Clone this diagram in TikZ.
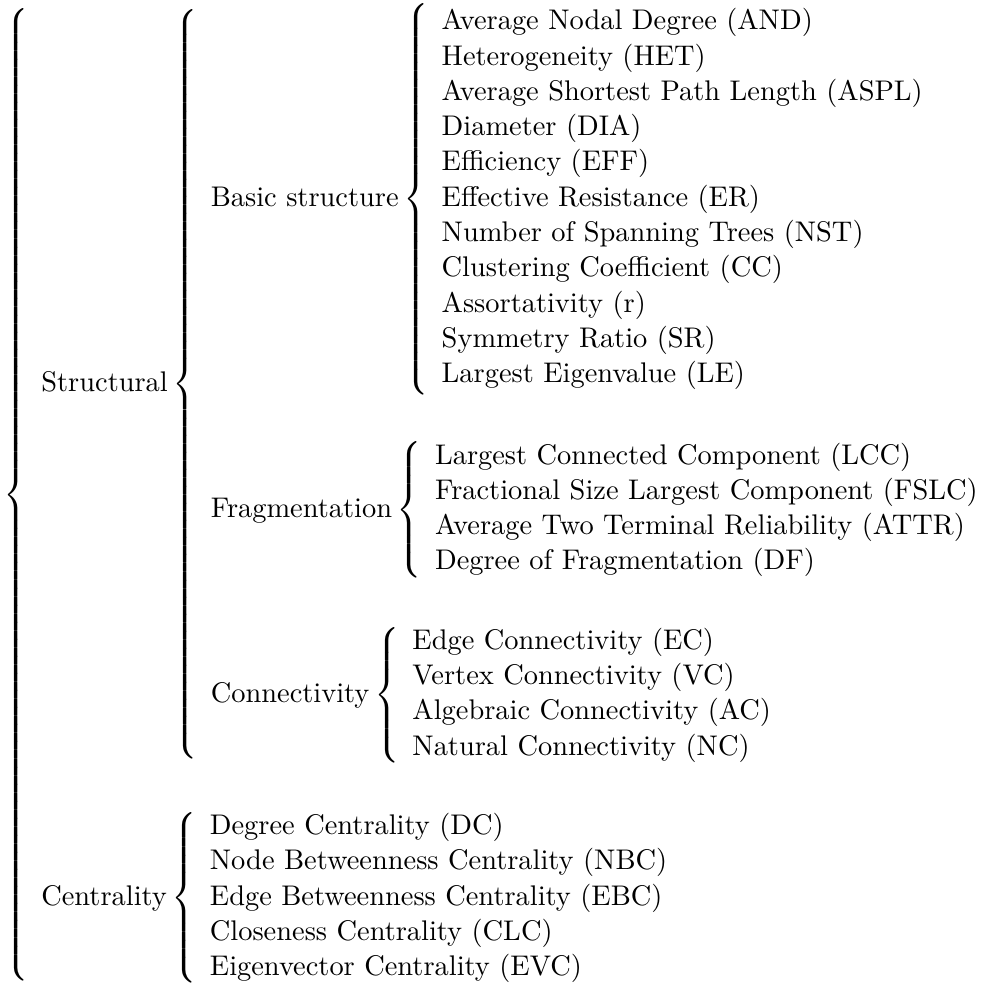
\documentclass[tikz,border=0pt]{standalone}
\usepackage{amsmath}
\begin{document}
\begin{tikzpicture}
\tikzset{tree/.style={inner sep=0pt, outer sep=0pt, anchor=north west,
    font=\fontsize{10.95}{13.6}\selectfont}}
% The whole classification is typeset as nested brace groups in one node
\node[tree] (taxonomy) at (0,0) {$
\left\{\begin{array}{l@{}}
\text{Structural}\left\{\begin{array}{l@{}}
  \text{Basic structure}\left\{\begin{array}{l@{}}
    \text{Average Nodal Degree (AND)}\\
    \text{Heterogeneity (HET)}\\
    \text{Average Shortest Path Length (ASPL)}\\
    \text{Diameter (DIA)}\\
    \text{Efficiency (EFF)}\\
    \text{Effective Resistance (ER)}\\
    \text{Number of Spanning Trees (NST)}\\
    \text{Clustering Coefficient (CC)}\\
    \text{Assortativity (r)}\\
    \text{Symmetry Ratio (SR)}\\
    \text{Largest Eigenvalue (LE)}
  \end{array}\right.\\ \noalign{\vskip 17pt}
  \text{Fragmentation}\left\{\begin{array}{l@{}}
    \text{Largest Connected Component (LCC)}\\
    \text{Fractional Size Largest Component (FSLC)}\\
    \text{Average Two Terminal Reliability (ATTR)}\\
    \text{Degree of Fragmentation (DF)}
  \end{array}\right.\\ \noalign{\vskip 17pt}
  \text{Connectivity}\left\{\begin{array}{l@{}}
    \text{Edge Connectivity (EC)}\\
    \text{Vertex Connectivity (VC)}\\
    \text{Algebraic Connectivity (AC)}\\
    \text{Natural Connectivity (NC)}
  \end{array}\right.
\end{array}\right.\\ \noalign{\vskip 17pt}
\text{Centrality}\left\{\begin{array}{l@{}}
  \text{Degree Centrality (DC)}\\
  \text{Node Betweenness Centrality (NBC)}\\
  \text{Edge Betweenness Centrality (EBC)}\\
  \text{Closeness Centrality (CLC)}\\
  \text{Eigenvector Centrality (EVC)}
\end{array}\right.
\end{array}\right.
$};
% small margin above and to the left of the braces
\useasboundingbox ([xshift=-1.2pt,yshift=1.2pt]taxonomy.north west)
  rectangle (taxonomy.south east);
\end{tikzpicture}
\end{document}
